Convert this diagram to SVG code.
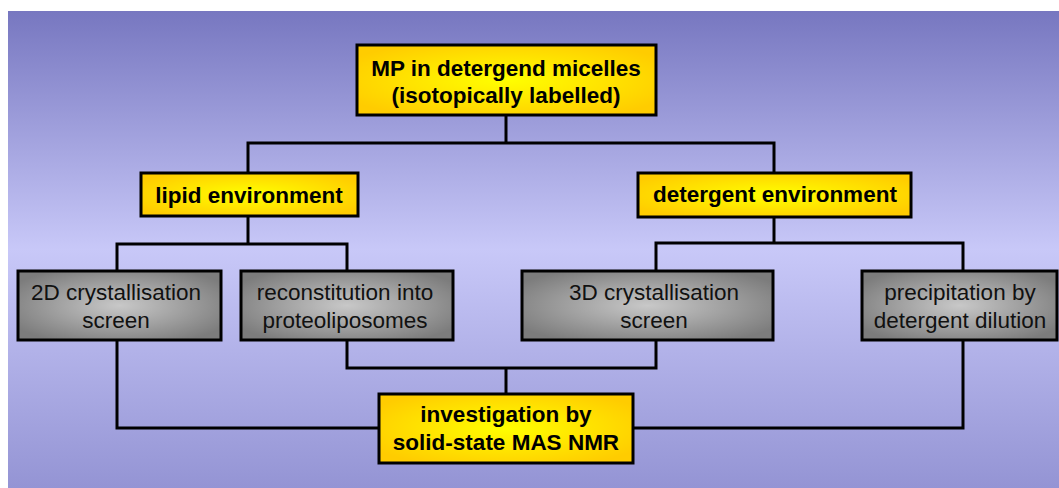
<svg xmlns="http://www.w3.org/2000/svg" width="1059" height="488" viewBox="0 0 1059 488">
<defs>
<linearGradient id="bg" x1="0" y1="0" x2="0" y2="1">
<stop offset="0" stop-color="#7777c0"/>
<stop offset="0.5" stop-color="#c8c8f8"/>
<stop offset="1" stop-color="#9494d4"/>
</linearGradient>
<radialGradient id="yel" cx="0.5" cy="0.5" r="0.6">
<stop offset="0" stop-color="#ffff00"/>
<stop offset="1" stop-color="#ffcc00"/>
</radialGradient>
<radialGradient id="gry" cx="0.5" cy="0.5" r="0.6">
<stop offset="0" stop-color="#c8c8c8"/>
<stop offset="1" stop-color="#7c7c7c"/>
</radialGradient>
</defs>
<style>
.y{fill:url(#yel);stroke:#000;stroke-width:3}
.g{fill:url(#gry);stroke:#000;stroke-width:3}
.tb{font-family:"Liberation Sans",Arial,sans-serif;font-weight:bold;font-size:22.5px;fill:#000;text-anchor:middle}
.tn{font-family:"Liberation Sans",Arial,sans-serif;font-size:22.5px;fill:#111;text-anchor:middle}
.c{fill:none;stroke:#000;stroke-width:3}
</style>
<rect x="8" y="11" width="1051" height="477" fill="url(#bg)"/>
<g id="connectors">
<polyline class="c" points="506,115 506,143"/>
<polyline class="c" points="248,173 248,143 774,143 774,173"/>
<polyline class="c" points="248,217 248,244"/>
<polyline class="c" points="117,271 117,244 347,244 347,271"/>
<polyline class="c" points="774,217 774,243"/>
<polyline class="c" points="656,271 656,243 963,243 963,271"/>
<polyline class="c" points="347,340 347,368 656,368 656,340"/>
<polyline class="c" points="506,368 506,394"/>
<polyline class="c" points="117,340 117,428 379,428"/>
<polyline class="c" points="963,340 963,428 633,428"/>
</g>
<g id="top">
<rect class="y" x="357" y="45" width="299" height="70"/>
<text class="tb" x="506" y="76">MP in detergend micelles</text>
<text class="tb" x="506" y="103">(isotopically labelled)</text>
</g>
<g id="lipid">
<rect class="y" x="141" y="173" width="217" height="43"/>
<text class="tb" x="249" y="203">lipid environment</text>
</g>
<g id="detergent">
<rect class="y" x="638" y="173" width="273" height="44"/>
<text class="tb" x="775" y="202">detergent environment</text>
</g>
<g id="cryst2d">
<rect class="g" x="18" y="271" width="203" height="69"/>
<text class="tn" x="116" y="300">2D crystallisation</text>
<text class="tn" x="116" y="328">screen</text>
</g>
<g id="recon">
<rect class="g" x="241" y="271" width="212" height="69"/>
<text class="tn" x="345" y="300">reconstitution into</text>
<text class="tn" x="345" y="328">proteoliposomes</text>
</g>
<g id="cryst3d">
<rect class="g" x="522" y="271" width="251" height="69"/>
<text class="tn" x="654" y="300">3D crystallisation</text>
<text class="tn" x="654" y="328">screen</text>
</g>
<g id="precip">
<rect class="g" x="862" y="271" width="195" height="69"/>
<text class="tn" x="960" y="300">precipitation by</text>
<text class="tn" x="960" y="328">detergent dilution</text>
</g>
<g id="nmr">
<rect class="y" x="379" y="394" width="254" height="69"/>
<text class="tb" x="506" y="422">investigation by</text>
<text class="tb" x="506" y="450">solid-state MAS NMR</text>
</g>
</svg>
